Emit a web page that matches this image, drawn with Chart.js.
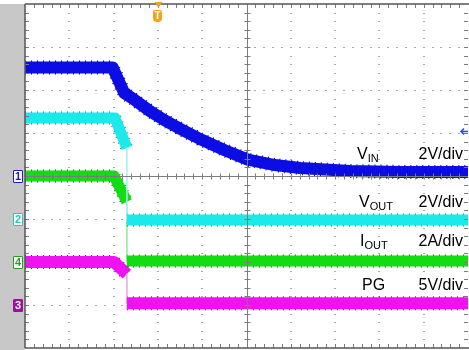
<!DOCTYPE html>
<html>
<head>
<meta charset="utf-8">
<script src="https://cdn.jsdelivr.net/npm/chart.js@4.4.1/dist/chart.umd.min.js"></script>
<style>
  html, body { margin: 0; padding: 0; background: #fff; }
  #scope { position: relative; width: 469px; height: 350px; overflow: hidden;
           font-family: "Liberation Sans", Arial, sans-serif; }
  #scope canvas { position: absolute; left: 0; top: 0; }
  .lbl { position: absolute; font-size: 16px; line-height: 16px; color: #000; white-space: nowrap; }
  .lbl.r { text-align: right; right: 6px; }
  .lbl sub { font-size: 11px; vertical-align: baseline; position: relative; top: 3px; }
  .mk { position: absolute; left: 13px; width: 8px; height: 11px; font-size: 11px; line-height: 11px;
        text-align: center; border: 1px solid; border-radius: 1px; background: #fff; font-weight: bold; }
  #trig { position: absolute; width: 9px; height: 12px; background: #f4a11c; color: #fff;
          font-size: 10px; line-height: 12px; text-align: center; font-weight: bold;
          border-radius: 2px 2px 4px 4px; }
</style>
</head>
<body>
<div id="scope">
  <canvas id="c" width="469" height="350"></canvas>
  <div class="lbl" style="left:357px;top:146px">V<sub>IN</sub></div>
  <div class="lbl r" style="top:146px">2V/div</div>
  <div class="lbl" style="left:359px;top:194px">V<sub>OUT</sub></div>
  <div class="lbl r" style="top:194px">2V/div</div>
  <div class="lbl" style="left:360px;top:233px">I<sub>OUT</sub></div>
  <div class="lbl r" style="top:233px">2A/div</div>
  <div class="lbl" style="left:362px;top:277px">PG</div>
  <div class="lbl r" style="top:277px">5V/div</div>
  <div class="mk" id="mk1" style="color:#1a1ad2;border-color:#1a1ad2">1</div>
  <div class="mk" id="mk2" style="color:#22c4c4;border-color:#22c4c4">2</div>
  <div class="mk" id="mk4" style="color:#2a9a2a;border-color:#2a9a2a">4</div>
  <div class="mk" id="mk3" style="color:#fff;border-color:#a010a0;background:#a010a0">3</div>
  <div id="trig">T</div>
</div>
<script>
// Time base: horizontal divisions from the left edge of the screen (10 across).
// Trigger sits at 3 div.
const triggerDiv = 3;
// Trigger level on channel 1 (volts)
const triggerLevelVin = 2.1;

// Channel 1: input voltage (V), 2 V/div, ground on the centre line
const vinTime  = [0, 1.98, 2.24, 2.48, 2.82, 3.16, 3.50, 3.95, 4.51, 5.03, 5.64, 6.21, 7.34, 8.47, 10];
const vinVolts = [5.05, 5.05, 3.86, 3.53, 3.02, 2.58, 2.20, 1.72, 1.20, 0.76, 0.51, 0.37, 0.23, 0.19, 0.19];

// Channel 2: output voltage (V), 2 V/div, ground one division below centre
const voutTime  = [0, 2.03, 2.30, 2.30, 10];
const voutVolts = [4.70, 4.70, 3.30, -0.05, -0.05];

// Channel 4: output current (A), 2 A/div, ground two divisions below centre
const ioutTime = [0, 2.01, 2.30, 2.30, 10];
const ioutAmps = [4.00, 4.00, 2.80, 0.05, 0.05];

// Channel 3: power-good (V), 5 V/div, ground three divisions below centre
const pgTime  = [0, 2.01, 2.30, 2.30, 10];
const pgVolts = [5.00, 5.00, 3.60, 0.20, 0.20];

// Per-channel vertical settings and trace colours
const channels = [
  { id: 'mk1', time: vinTime,  values: vinVolts,  perDiv: 2, ground: 0,  color: '#0c0ce4', grain: '#06067a', edge: '#8080f0', width: 12 },
  { id: 'mk2', time: voutTime, values: voutVolts, perDiv: 2, ground: -1, color: '#1ceaea', grain: '#147c7c', edge: '#a8f0f0', width: 11 },
  { id: 'mk4', time: ioutTime, values: ioutAmps,  perDiv: 2, ground: -2, color: '#12dc12', grain: '#0c640c', edge: '#98ea98', width: 11 },
  { id: 'mk3', time: pgTime,   values: pgVolts,   perDiv: 5, ground: -3, color: '#f012f0', grain: '#801080', edge: '#e6aae6', width: 12 }
];

const isStep = ctx => ctx.p0.parsed.x === ctx.p1.parsed.x;

const datasets = [];
channels.forEach((ch, k) => {
  const pts = ch.time.map((t, i) => ({ x: t, y: ch.ground + ch.values[i] / ch.perDiv }));
  const base = {
    data: pts,
    pointRadius: 0,
    fill: false,
    borderCapStyle: 'butt',
    borderJoinStyle: 'round',
    tension: 0
  };
  // acquisition band
  datasets.push(Object.assign({}, base, {
    order: 2 * k,
    borderColor: ch.color,
    borderWidth: ch.width,
    segment: {
      borderWidth: ctx => isStep(ctx) ? 1.6 : undefined,
      borderColor: ctx => isStep(ctx) ? ch.edge : undefined
    }
  }));
  // darker sample grain along the band edges
  datasets.push(Object.assign({}, base, {
    order: 2 * k + 1,
    borderColor: ch.grain,
    borderWidth: ch.width + 2,
    borderDash: [1, 5],
    segment: {
      borderColor: ctx => isStep(ctx) ? 'rgba(0,0,0,0)' : undefined
    }
  }));
});

// Oscilloscope graticule: dotted grid, centre cross with ticks, framed edges
const graticule = {
  id: 'graticule',
  beforeDraw(chart) {
    const { ctx, chartArea: a } = chart;
    const xs = chart.scales.x, ys = chart.scales.y;
    ctx.save();
    ctx.fillStyle = '#fff';
    ctx.fillRect(0, 0, chart.width, chart.height);
    ctx.fillStyle = '#c8c8c8';
    ctx.fillRect(0, a.top, a.left, chart.height - a.top);
    ctx.fillStyle = '#a9a9a9';
    for (let gy = -3; gy <= 3; gy++) {
      if (gy === 0) continue;
      const py = Math.round(ys.getPixelForValue(gy));
      for (let m = 1; m < 50; m++) {
        const px = Math.round(xs.getPixelForValue(m * 0.2));
        ctx.fillRect(px - 1, py, 2, 1);
      }
    }
    for (let gx = 1; gx <= 9; gx++) {
      if (gx === 5) continue;
      const px = Math.round(xs.getPixelForValue(gx));
      for (let m = 1; m < 40; m++) {
        const py = Math.round(ys.getPixelForValue(-4 + m * 0.2));
        ctx.fillRect(px - 1, py, 2, 1);
      }
    }
    ctx.restore();
  },
  afterDatasetsDraw(chart) {
    const { ctx, chartArea: a } = chart;
    const xs = chart.scales.x, ys = chart.scales.y;
    const cx = Math.round(xs.getPixelForValue(5)) + 0.5;
    const cy = Math.round(ys.getPixelForValue(0)) + 0.5;
    ctx.save();
    // centre cross
    ctx.strokeStyle = '#7c7c7c';
    ctx.lineWidth = 1;
    ctx.beginPath();
    ctx.moveTo(a.left, cy); ctx.lineTo(a.right, cy);
    ctx.moveTo(cx, a.top); ctx.lineTo(cx, a.bottom);
    for (let m = 1; m < 50; m++) {
      const px = Math.round(xs.getPixelForValue(m * 0.2)) + 0.5;
      ctx.moveTo(px, cy - 3); ctx.lineTo(px, cy + 3);
      ctx.moveTo(px, a.top); ctx.lineTo(px, a.top + 4);
      ctx.moveTo(px, a.bottom); ctx.lineTo(px, a.bottom - 4);
    }
    for (let m = 1; m < 40; m++) {
      const py = Math.round(ys.getPixelForValue(-4 + m * 0.2)) + 0.5;
      ctx.moveTo(cx - 3, py); ctx.lineTo(cx + 3, py);
      ctx.moveTo(a.left, py); ctx.lineTo(a.left + 4, py);
      ctx.moveTo(a.right, py); ctx.lineTo(a.right - 4, py);
    }
    ctx.stroke();
    // frame
    ctx.strokeStyle = '#555';
    ctx.lineWidth = 1.5;
    ctx.beginPath();
    ctx.moveTo(a.left, a.top); ctx.lineTo(a.right + 1, a.top);
    ctx.moveTo(a.left, a.top); ctx.lineTo(a.left, a.bottom);
    ctx.moveTo(a.left, a.bottom); ctx.lineTo(a.right + 1, a.bottom);
    ctx.stroke();
    // trigger position pointer
    const tx = Math.round(xs.getPixelForValue(triggerDiv)) + 0.5;
    ctx.fillStyle = '#f4a11c';
    ctx.beginPath();
    ctx.moveTo(tx - 4, a.top - 2); ctx.lineTo(tx + 4, a.top - 2); ctx.lineTo(tx, a.top + 4);
    ctx.closePath(); ctx.fill();
    // trigger level pointer on the right edge
    const ty = Math.round(ys.getPixelForValue(triggerLevelVin / channels[0].perDiv)) + 0.5;
    ctx.strokeStyle = '#1f4fe6';
    ctx.lineWidth = 1.5;
    ctx.beginPath();
    ctx.moveTo(a.right - 7, ty); ctx.lineTo(a.right, ty);
    ctx.moveTo(a.right - 4, ty - 3); ctx.lineTo(a.right - 7, ty); ctx.lineTo(a.right - 4, ty + 3);
    ctx.stroke();
    ctx.restore();
  }
};

const chart = new Chart(document.getElementById('c'), {
  type: 'line',
  data: { datasets },
  options: {
    responsive: false,
    animation: false,
    events: [],
    layout: { padding: { left: 25, right: 1, top: 4, bottom: 2 } },
    scales: {
      x: { type: 'linear', min: 0, max: 10, display: false },
      y: { type: 'linear', min: -4, max: 4, display: false }
    },
    plugins: { legend: { display: false }, tooltip: { enabled: false } }
  },
  plugins: [graticule]
});

// Channel ground markers and trigger tag placed from the chart's scales
channels.forEach(ch => {
  const el = document.getElementById(ch.id);
  el.style.top = Math.round(chart.scales.y.getPixelForValue(ch.ground) - 6.5) + 'px';
});
const trig = document.getElementById('trig');
trig.style.left = Math.round(chart.scales.x.getPixelForValue(triggerDiv) - 4.5) + 'px';
trig.style.top = Math.round(chart.chartArea.top + 6) + 'px';
</script>
</body>
</html>
